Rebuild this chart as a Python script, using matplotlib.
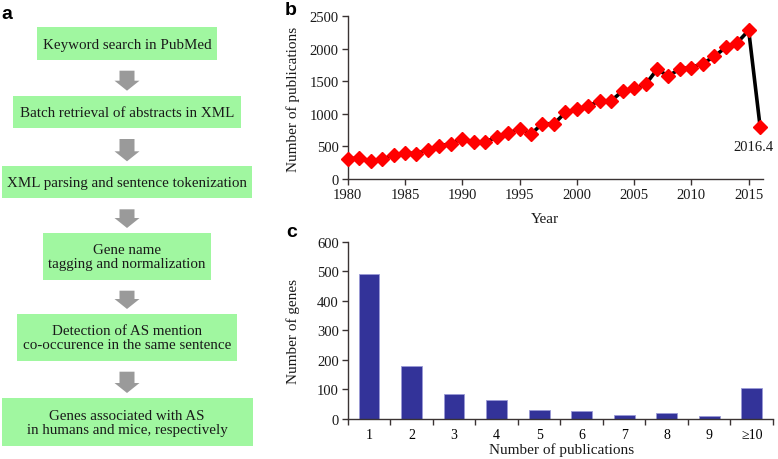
import matplotlib
matplotlib.use("Agg")
import matplotlib.pyplot as plt
from matplotlib.patches import Rectangle, FancyArrow

# ---------------- data ----------------
flow_steps = [
    "Keyword search in PubMed",
    "Batch retrieval of abstracts in XML",
    "XML parsing and sentence tokenization",
    "Gene name\ntagging and normalization",
    "Detection of AS mention\nco-occurence in the same sentence",
    "Genes associated with AS\nin humans and mice, respectively",
]

years = list(range(1980, 2017))
publications = [310, 320, 280, 300, 370, 400, 390, 450, 510, 540,
                 620, 565, 570, 640, 700, 770, 690, 850, 845, 1020,
                 1070, 1120, 1200, 1200, 1350, 1390, 1450, 1680, 1580, 1690,
                 1710, 1770, 1880, 2020, 2090, 2280, 800]
year_ticks = [1980, 1985, 1990, 1995, 2000, 2005, 2010, 2015]
pub_ticks = [0, 500, 1000, 1500, 2000, 2500]
last_label = "2016.4"

pub_categories = ["1", "2", "3", "4", "5", "6", "7", "8", "9", "\u226510"]
gene_counts = [490, 180, 85, 65, 32, 27, 15, 20, 10, 105]
gene_ticks = [0, 100, 200, 300, 400, 500, 600]

# ---------------- layout (pixels) ----------------
W, H = 778, 460
# boxes: (x0, y0, x1, y1)
box_px = [(36.7, 28.3, 217.3, 60.7),
          (13.3, 96.7, 240.7, 129.0),
          (1.7, 167.3, 251.7, 199.3),
          (42.7, 234.0, 210.7, 280.7),
          (17.3, 315.0, 236.7, 361.7),
          (1.7, 399.0, 252.7, 446.7)]

serif = ["Liberation Serif", "DejaVu Serif"]
sans = ["Liberation Sans", "DejaVu Sans"]
txt_col = "#1a1a1a"
spine_col = "#3a3333"

fig = plt.figure(figsize=(W / 100, H / 100), dpi=100)

# overlay axes in pixel coordinates
ov = fig.add_axes([0, 0, 1, 1])
ov.set_xlim(0, W)
ov.set_ylim(H, 0)
ov.axis("off")

for i, (step, (x0, y0, x1, y1)) in enumerate(zip(flow_steps, box_px)):
    ov.add_patch(Rectangle((x0, y0), x1 - x0, y1 - y0,
                           facecolor="#a0f7a0", edgecolor="none"))
    ov.text((x0 + x1) / 2, (y0 + y1) / 2 + 0.5, step, ha="center", va="center",
            family=serif, fontsize=10.8, color=txt_col, linespacing=1.12)
    if i < len(flow_steps) - 1:
        nx0, ny0, nx1, ny1 = box_px[i + 1]
        start = y1 + 11
        end = ny0 - 5
        ov.add_patch(FancyArrow(127, start, 0, end - start, width=15,
                                head_width=25, head_length=10,
                                length_includes_head=True,
                                facecolor="#9a9a9a", edgecolor="none"))

# panel labels
ov.text(1, 6, "a", family=sans, fontweight="bold", fontsize=14,
        ha="left", va="top", color="black")
ov.text(285, 2, "b", family=sans, fontweight="bold", fontsize=14,
        ha="left", va="top", color="black")
ov.text(286, 224, "c", family=sans, fontweight="bold", fontsize=14,
        ha="left", va="top", color="black")


def style_axes(ax):
    for s in ["top", "right"]:
        ax.spines[s].set_visible(False)
    for s in ["left", "bottom"]:
        ax.spines[s].set_color(spine_col)
        ax.spines[s].set_linewidth(1.0)
    ax.tick_params(direction="out", length=4.5, width=1.0, color=spine_col,
                   labelsize=10.5, labelcolor=txt_col, pad=2)
    for lab in ax.get_xticklabels() + ax.get_yticklabels():
        lab.set_family(serif)


# ---------------- panel b ----------------
bl, br, bt, bb = 347.7, 763.0, 17.0, 180.0
axb = fig.add_axes([bl / W, 1 - bb / H, (br - bl) / W, (bb - bt) / H])
axb.plot(years, publications, color="black", lw=2.6, marker="D",
         markersize=7.0, markerfacecolor="#ff0000", markeredgecolor="#ff0000",
         zorder=3, clip_on=False)
axb.set_xlim(1980, 2016.25)
axb.set_ylim(0, 2500)
axb.set_xticks(year_ticks)
axb.set_yticks(pub_ticks)
style_axes(axb)
axb.text(2015.45, 505, last_label, ha="center", va="center", family=serif,
         fontsize=10.5, color=txt_col)
fig.text(545 / W, 1 - 220 / H, "Year", ha="center", va="center",
         family=serif, fontsize=11, color=txt_col)
fig.text(293 / W, 1 - 99 / H, "Number of publications", rotation=90,
         ha="center", va="center", family=serif, fontsize=11, color=txt_col)

# ---------------- panel c ----------------
cl, cr, ct, cb = 347.7, 773.0, 242.7, 420.0
axc = fig.add_axes([cl / W, 1 - cb / H, (cr - cl) / W, (cb - ct) / H])
xpos = list(range(len(pub_categories)))
axc.bar(xpos, gene_counts, width=0.49, color="#333399",
        edgecolor="#9a9ad6", linewidth=0.6)
axc.set_xlim(-0.5, len(pub_categories) - 0.5)
axc.set_ylim(0, 600)
axc.set_yticks(gene_ticks)
axc.set_xticks([p - 0.5 for p in xpos] + [len(xpos) - 0.5])
axc.set_xticklabels([])
axc.set_xticks(xpos, minor=True)
axc.set_xticklabels(pub_categories, minor=True)
style_axes(axc)
axc.tick_params(axis="x", which="minor", length=0, pad=6.5)
for lab in axc.get_xticklabels(minor=True):
    lab.set_family(serif)
fig.text(561.7 / W, 1 - 450 / H, "Number of publications", ha="center",
         va="center", family=serif, fontsize=11, color=txt_col)
fig.text(293 / W, 1 - 331.5 / H, "Number of genes", rotation=90,
         ha="center", va="center", family=serif, fontsize=11, color=txt_col)

fig.savefig("out.png", dpi=100)
